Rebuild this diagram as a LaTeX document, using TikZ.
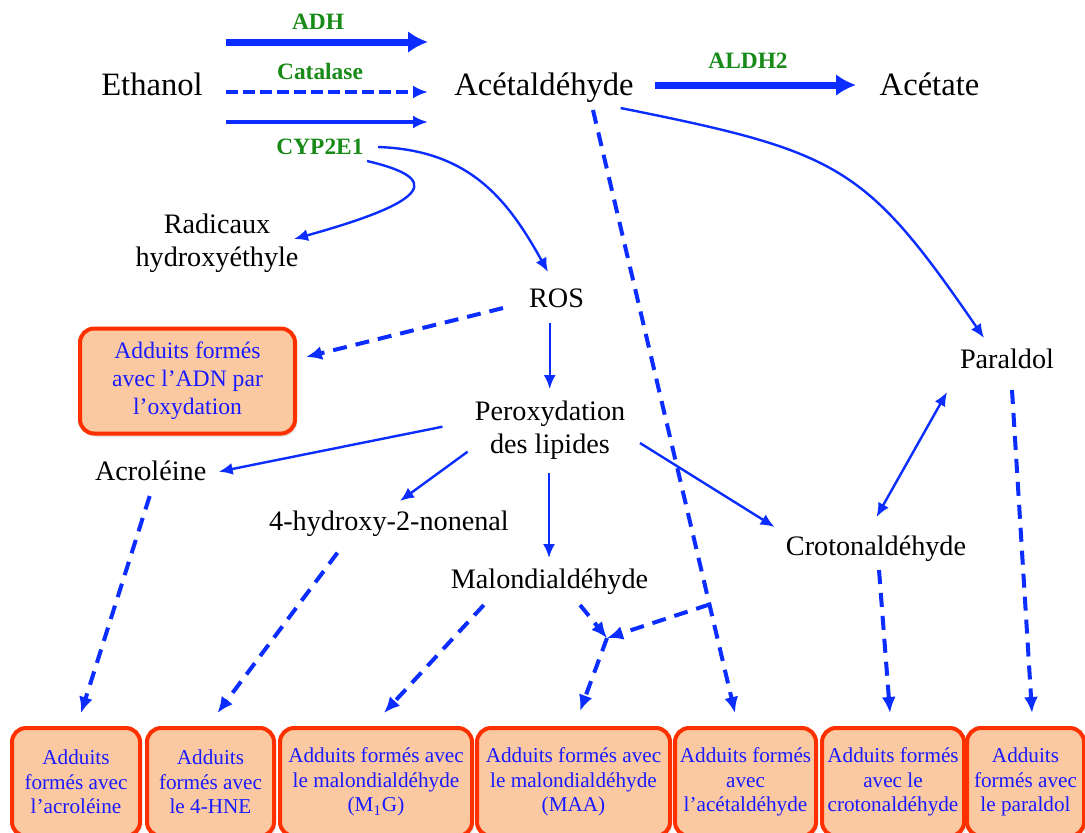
\documentclass[tikz,border=0pt]{standalone}
\usepackage{fontspec}
\setmainfont{Liberation Serif}
\usetikzlibrary{arrows.meta,shadows}
\definecolor{b1}{HTML}{0B2DFF}
\definecolor{b2}{HTML}{1A1AFF}
\definecolor{g1}{HTML}{178A17}
\definecolor{r1}{HTML}{FF3000}
\definecolor{o1}{HTML}{FAC9A1}

\begin{document}
\begin{tikzpicture}[x=0.5pt,y=-0.5pt,
	big/.style={font=\fontsize{16.3}{19}\selectfont,anchor=base,inner sep=0pt},
	mid/.style={font=\fontsize{14.1}{16.5}\selectfont,anchor=base,inner sep=0pt},
	enz/.style={font=\fontsize{11.7}{14}\selectfont\bfseries,text=g1,anchor=base,inner sep=0pt},
	adduit/.style={draw=r1,line width=2pt,fill=o1,rounded corners=7pt,text=b2,align=center,inner sep=0pt,
		minimum height=54pt,font=\fontsize{10.6}{12.25}\selectfont,
		drop shadow={opacity=0.25,shadow xshift=1pt,shadow yshift=-1.5pt}},
	fl/.style={b1,line width=1.2pt,-{Latex[length=7pt,width=6pt]}},
	dfl/.style={b1,line width=2pt,dash pattern=on 7pt off 4.5pt,-{Latex[length=8pt,width=7pt]}},
	catarr/.style={b1,line width=2pt,dash pattern=on 6pt off 2.5pt,-{Latex[length=7.5pt,width=6.5pt]}},
	gros/.style={b1,line width=3.5pt,-{Latex[length=10pt,width=11pt]}}
	]
	\clip (0,0) rectangle (1085,832);

	% substances
	\node[big] (eth) at (152,95) {Ethanol};
	\node[big] (acet) at (544,95) {Acétaldéhyde};
	\node[big] (acetate) at (929.5,95) {Acétate};
	\node[enz] (adh) at (318,29) {ADH};
	\node[enz] (cat) at (320,79) {Catalase};
	\node[enz] (cyp) at (320,154) {CYP2E1};
	\node[enz] (aldh) at (748,68) {ALDH2};
	\node[mid,anchor=center,align=center] (radic) at (217,243) {Radicaux\\hydroxyéthyle};
	\node[mid] (ros) at (556.5,307) {ROS};
	\node[mid,anchor=center,align=center] (perox) at (550,430) {Peroxydation\\des lipides};
	\node[mid] (acro) at (150.7,480) {Acroléine};
	\node[mid] (hne) at (389,530.7) {4-hydroxy-2-nonenal};
	\node[mid] (malon) at (549.5,588) {Malondialdéhyde};
	\node[mid] (croto) at (876,555) {Crotonaldéhyde};
	\node[mid] (paral) at (1007,368) {Paraldol};

	% adduits
	\node[adduit,minimum width=107.5pt,minimum height=52.5pt,font=\fontsize{11.8}{14}\selectfont] (adn) at (187.5,381) {Adduits formés\\avec l’ADN par\\l’oxydation};
	\node[adduit,minimum width=64pt] (b1) at (76,782) {Adduits\\formés avec\\l’acroléine};
	\node[adduit,minimum width=63.5pt] (b2) at (210.5,782) {Adduits\\formés avec\\le 4-HNE};
	\node[adduit,minimum width=96pt] (b3) at (376,782) {Adduits formés avec\\le malondialdéhyde\\(M\textsubscript{1}G)};
	\node[adduit,minimum width=96.5pt] (b4) at (573.5,782) {Adduits formés avec\\le malondialdéhyde\\(MAA)};
	\node[adduit,minimum width=70.5pt] (b5) at (745.5,782) {Adduits formés\\avec\\l’acétaldéhyde};
	\node[adduit,minimum width=71pt] (b6) at (893,782) {Adduits formés\\avec le\\crotonaldéhyde};
	\node[adduit,minimum width=58.5pt] (b7) at (1025.5,782) {Adduits\\formés avec\\le paraldol};

	% metabolisme
	\draw[gros] ([shift={(74,-53)}]eth.base) -- ([shift={(-116,-53)}]acet.base);
	\draw[catarr] ([shift={(74,-3)}]eth.base) -- ([shift={(-116,-3)}]acet.base);
	\draw[b1,line width=2pt,-{Latex[length=7.5pt,width=6.5pt]}] ([shift={(74,27)}]eth.base) -- ([shift={(-116,27)}]acet.base);
	\draw[gros] ([shift={(111,-10)}]acet.base) -- ([shift={(-73.5,-10)}]acetate.base);
	\draw[fl] ([shift={(47,7)}]cyp.base) .. controls (440,178) and (435,200) .. ([shift={(77,-4)}]radic.center);
	\draw[fl] ([shift={(58,-7)}]cyp.base) .. controls (470,150) and (508,200) .. ([shift={(-8.5,-35)}]ros.base);
	\draw[dfl] ([shift={(-53.5,1)}]ros.base) -- ([shift={(9,-24)}]adn.east);
	\draw[fl] ([shift={(-6.8,16)}]ros.base) -- ([shift={(-0.3,-41)}]perox.center);
	\draw[fl] ([shift={(-107.5,-3.3)}]perox.center) -- ([shift={(68,-8.3)}]acro.base);
	\draw[fl] ([shift={(-82.4,21.7)}]perox.center) -- ([shift={(11,-29.7)}]hne.base);
	\draw[fl] ([shift={(-1,43)}]perox.center) -- ([shift={(-0.5,-30)}]malon.base);
	\draw[fl] ([shift={(90,13)}]perox.center) -- ([shift={(-101.4,-28)}]croto.base);
	\draw[fl] ([shift={(76.6,13)}]acet.base) .. controls (840,152) and (865,165) .. ([shift={(-23,-30)}]paral.base);
	\draw[fl,{Latex[length=7pt,width=6pt]}-{Latex[length=7pt,width=6pt]}] ([shift={(-60,24)}]paral.base) -- ([shift={(0.5,-38)}]croto.base);

	% vers les adduits
	\draw[dfl] ([shift={(49,15)}]acet.base) -- ([shift={(-10.5,-13)}]b5.north) coordinate[pos=0.82] (brk);
	\coordinate (jct) at (607,638);
	\draw[dfl] (brk) -- (jct);
	\draw[dfl] ([shift={(30.5,17)}]malon.base) -- (jct);
	\draw[dfl] (jct) -- ([shift={(6.5,-15)}]b4.north);
	\draw[dfl] ([shift={(-65.7,17)}]malon.base) -- ([shift={(8,-13)}]b3.north);
	\draw[dfl] ([shift={(-1,16)}]acro.base) -- ([shift={(5,-13)}]b1.north);
	\draw[dfl] ([shift={(-51.5,22)}]hne.base) -- ([shift={(7,-13)}]b2.north);
	\draw[dfl] ([shift={(3,15)}]croto.base) -- ([shift={(-3,-13)}]b6.north);
	\draw[dfl] ([shift={(5,22)}]paral.base) -- ([shift={(6.5,-13)}]b7.north);
\end{tikzpicture}
\end{document}
